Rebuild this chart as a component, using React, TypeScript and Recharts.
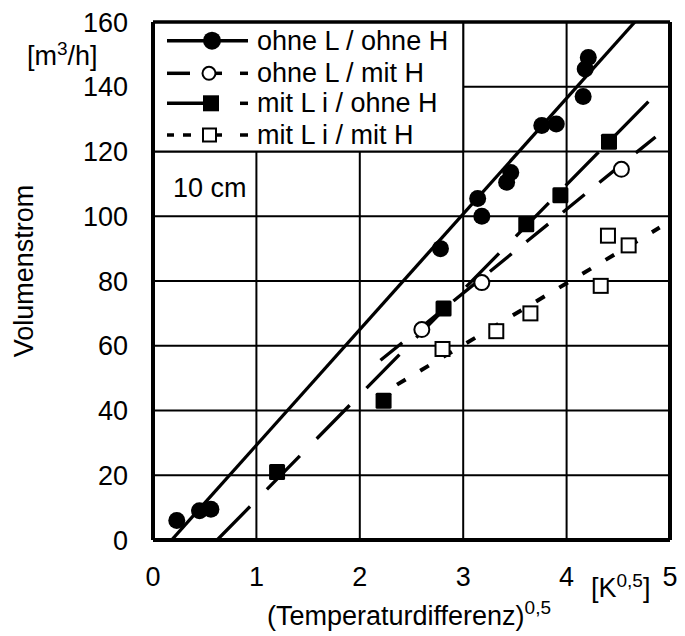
import React from 'react';
import {
  ComposedChart,
  Scatter,
  Line,
  XAxis,
  YAxis,
  CartesianGrid,
  ReferenceArea,
  ReferenceLine,
  Legend,
} from 'recharts';

const FONT = '"Liberation Sans", Arial, Helvetica, sans-serif';

const xTicks = [0, 1, 2, 3, 4, 5];
const yTicks = [0, 20, 40, 60, 80, 100, 120, 140, 160];

// Messpunkte
const ohneLohneH = [
  { x: 0.23, y: 6 },
  { x: 0.45, y: 9 },
  { x: 0.56, y: 9.5 },
  { x: 2.78, y: 90 },
  { x: 3.14, y: 105.5 },
  { x: 3.18, y: 100 },
  { x: 3.42, y: 110.5 },
  { x: 3.46, y: 113.5 },
  { x: 3.76, y: 128 },
  { x: 3.9, y: 128.5 },
  { x: 4.16, y: 137 },
  { x: 4.18, y: 145.5 },
  { x: 4.21, y: 149 },
];
const ohneLmitH = [
  { x: 2.6, y: 65 },
  { x: 3.18, y: 79.5 },
  { x: 4.53, y: 114.5 },
];
const mitLohneH = [
  { x: 1.2, y: 21 },
  { x: 2.23, y: 43 },
  { x: 2.81, y: 71.5 },
  { x: 3.61, y: 97.5 },
  { x: 3.94, y: 106.5 },
  { x: 4.41, y: 123 },
];
const mitLmitH = [
  { x: 2.8, y: 59 },
  { x: 3.32, y: 64.5 },
  { x: 3.65, y: 70 },
  { x: 4.33, y: 78.5 },
  { x: 4.4, y: 94 },
  { x: 4.6, y: 91 },
];

// Ausgleichsgeraden (Anfangs- und Endpunkt)
const fitOhneLohneH = [{ x: 0.18, y: 0 }, { x: 4.66, y: 160 }];
const fitOhneLmitH = [{ x: 2.2, y: 55.5 }, { x: 4.86, y: 124.5 }];
const fitMitLohneH = [{ x: 0.62, y: 0 }, { x: 4.84, y: 137 }];
const fitMitLmitH = [{ x: 2.36, y: 48 }, { x: 4.9, y: 96.5 }];

const legendLabels = ['ohne L / ohne H', 'ohne L / mit H', 'mit L i / ohne H', 'mit L i / mit H'];

const FilledCircle = (p: any) => <circle cx={p.cx} cy={p.cy} r={8.5} fill="#000" />;
const OpenCircle = (p: any) => (
  <circle cx={p.cx} cy={p.cy} r={7.5} fill="#fff" stroke="#000" strokeWidth={2} />
);
const FilledSquare = (p: any) => (
  <rect x={p.cx - 8} y={p.cy - 8} width={16} height={16} rx={1.5} fill="#000" />
);
const OpenSquare = (p: any) => (
  <rect x={p.cx - 7} y={p.cy - 7} width={14} height={14} fill="#fff" stroke="#000" strokeWidth={2} />
);

function LegendBox() {
  const sw = 3.5;
  const rows = [18.7, 51.3, 81.3, 113];
  return (
    <svg width={312} height={130} style={{ display: 'block' }}>
      {/* ohne L / ohne H */}
      <line x1={14} x2={95} y1={rows[0]} y2={rows[0]} stroke="#000" strokeWidth={sw} />
      <circle cx={59} cy={rows[0]} r={9} fill="#000" />
      {/* ohne L / mit H */}
      <line x1={14} x2={37} y1={rows[1]} y2={rows[1]} stroke="#000" strokeWidth={sw} />
      <line x1={62} x2={69} y1={rows[1]} y2={rows[1]} stroke="#000" strokeWidth={sw} />
      <circle cx={56} cy={rows[1]} r={6.5} fill="#fff" stroke="#000" strokeWidth={2} />
      <line x1={87} x2={95} y1={rows[1]} y2={rows[1]} stroke="#000" strokeWidth={sw} />
      {/* mit L i / ohne H */}
      <line x1={14} x2={52} y1={rows[2]} y2={rows[2]} stroke="#000" strokeWidth={sw} />
      <rect x={50} y={rows[2] - 8} width={16} height={16} fill="#000" />
      <line x1={87} x2={95} y1={rows[2]} y2={rows[2]} stroke="#000" strokeWidth={sw} />
      {/* mit L i / mit H */}
      <line x1={14} x2={21} y1={rows[3]} y2={rows[3]} stroke="#000" strokeWidth={sw} />
      <line x1={30} x2={38} y1={rows[3]} y2={rows[3]} stroke="#000" strokeWidth={sw} />
      <line x1={61} x2={69} y1={rows[3]} y2={rows[3]} stroke="#000" strokeWidth={sw} />
      <rect x={50} y={rows[3] - 6.5} width={13} height={13} fill="#fff" stroke="#000" strokeWidth={2} />
      <line x1={87} x2={95} y1={rows[3]} y2={rows[3]} stroke="#000" strokeWidth={sw} />
      {legendLabels.map((t, i) => (
        <text key={t} x={104} y={rows[i] + 9} fontSize={27} fontFamily={FONT} fill="#000">
          {t}
        </text>
      ))}
    </svg>
  );
}

export default function App() {
  const tickStyle = { fontSize: 27, fill: '#000', fontFamily: FONT };
  return (
    <div style={{ position: 'absolute', left: 0, top: 0, width: 685, height: 636, background: '#fff' }}>
      <ComposedChart width={685} height={636} margin={{ top: 22, right: 15, bottom: 0, left: 0 }}>
        <CartesianGrid stroke="#000" strokeWidth={2} fill="#fff" />
        <XAxis
          type="number"
          dataKey="x"
          domain={[0, 5]}
          ticks={xTicks}
          allowDataOverflow
          height={96}
          tickLine={false}
          tickSize={0}
          tickMargin={27}
          tick={tickStyle}
          axisLine={{ stroke: '#000', strokeWidth: 4 }}
        />
        <YAxis
          type="number"
          dataKey="y"
          domain={[0, 160]}
          ticks={yTicks}
          allowDataOverflow
          width={153}
          tickLine={false}
          tickSize={0}
          tickMargin={25}
          tick={tickStyle}
          axisLine={{ stroke: '#000', strokeWidth: 4 }}
        />
        <ReferenceArea x1={0} x2={3} y1={120} y2={160} fill="#fff" fillOpacity={1} stroke="none" />
        <ReferenceLine segment={[{ x: 3, y: 120 }, { x: 3, y: 160 }]} stroke="#000" strokeWidth={2} />
        <ReferenceLine segment={[{ x: 0, y: 120 }, { x: 3, y: 120 }]} stroke="#000" strokeWidth={2} />
        <ReferenceLine y={160} stroke="#000" strokeWidth={3.5} />
        <ReferenceLine x={5} stroke="#000" strokeWidth={4} />

        <Line data={fitOhneLohneH} dataKey="y" stroke="#000" strokeWidth={3.3} dot={false} isAnimationActive={false} legendType="none" />
        <Line data={fitMitLohneH} dataKey="y" stroke="#000" strokeWidth={3.3} strokeDasharray="47 24" dot={false} isAnimationActive={false} legendType="none" />
        <Line data={fitOhneLmitH} dataKey="y" stroke="#000" strokeWidth={3.3} strokeDasharray="28 19" dot={false} isAnimationActive={false} legendType="none" />
        <Line data={fitMitLmitH} dataKey="y" stroke="#000" strokeWidth={4} strokeDasharray="10 17" dot={false} isAnimationActive={false} legendType="none" />

        <Scatter data={ohneLohneH} shape={FilledCircle} isAnimationActive={false} />
        <Scatter data={mitLohneH} shape={FilledSquare} isAnimationActive={false} />
        <Scatter data={ohneLmitH} shape={OpenCircle} isAnimationActive={false} />
        <Scatter data={mitLmitH} shape={OpenSquare} isAnimationActive={false} />

        <Legend
          layout="horizontal"
          verticalAlign="middle"
          align="center"
          content={() => <LegendBox />}
          wrapperStyle={{ left: 153, top: 22, width: 312, height: 130 }}
        />
      </ComposedChart>
      <svg
        width={685}
        height={636}
        style={{ position: 'absolute', left: 0, top: 0, pointerEvents: 'none' }}
        fontFamily={FONT}
        fontSize={27}
      >
        <text x={33} y={271} textAnchor="middle" transform="rotate(-90, 33, 271)">
          Volumenstrom
        </text>
        <text x={27} y={65}>
          [m<tspan dy={-10} fontSize={19}>3</tspan>
          <tspan dy={10}>/h]</tspan>
        </text>
        <text x={267} y={625}>
          (Temperaturdifferenz)<tspan dy={-11} fontSize={19}>0,5</tspan>
        </text>
        <text x={591} y={597}>
          [K<tspan dy={-10} fontSize={19}>0,5</tspan>
          <tspan dy={10}>]</tspan>
        </text>
        <text x={173} y={197}>10 cm</text>
      </svg>
    </div>
  );
}
